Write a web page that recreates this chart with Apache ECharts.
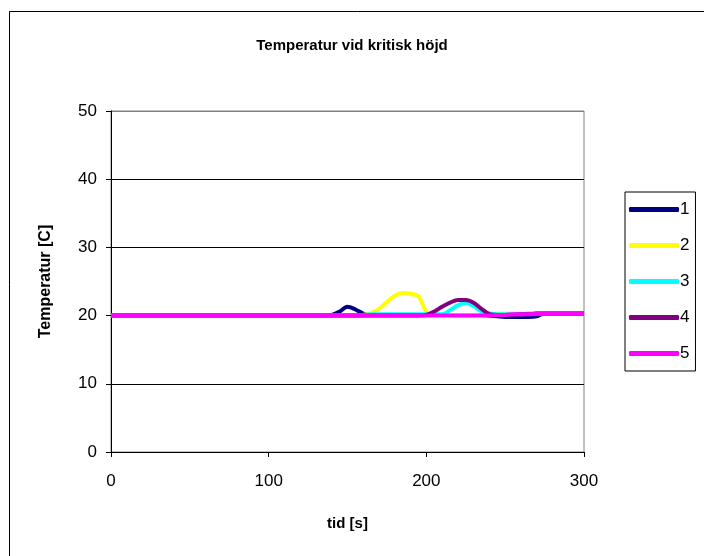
<!DOCTYPE html>
<html>
<head>
<meta charset="utf-8">
<script src="https://cdn.jsdelivr.net/npm/echarts@6/dist/echarts.min.js"></script>
<style>
  html, body { margin: 0; padding: 0; background: #fff; }
  #chart { width: 704px; height: 556px; }
</style>
</head>
<body>
<div id="chart"></div>
<script>
  // tid [s], every 5 s
  var tid = [];
  for (var t = 0; t <= 300; t += 5) tid.push(t);

  var s1 = [20,20,20,20,20,20,20,20,20,20,20,20,20,20,20,20,20,20,20,20,20,20,20,20,20,20,20,20,20.1,20.6,21.3,20.9,20.3,20.1,20.1,20.1,20.1,20.1,20.1,20.1,20.1,20.1,20.1,20.1,20.1,20.1,20.1,20.1,20.0,19.9,19.8,19.8,19.8,19.8,19.9,20.3,20.3,20.3,20.3,20.3,20.3];
  var s2 = [20,20,20,20,20,20,20,20,20,20,20,20,20,20,20,20,20,20,20,20,20,20,20,20,20,20,20,20,20,20,20,20,20.1,20.4,21.0,22.0,22.9,23.3,23.2,22.8,20.6,20.1,20.1,20.1,20.1,20.1,20.1,20.1,20.2,20.3,20.3,20.3,20.3,20.3,20.3,20.3,20.3,20.3,20.3,20.3,20.3];
  var s3 = [20,20,20,20,20,20,20,20,20,20,20,20,20,20,20,20,20,20,20,20,20,20,20,20,20,20,20,20,20,20,20,20,20.1,20.2,20.2,20.2,20.2,20.2,20.2,20.2,20.2,20.2,20.2,20.8,21.5,21.9,21.4,20.6,20.3,20.2,20.2,20.2,20.2,20.3,20.3,20.3,20.3,20.3,20.3,20.3,20.3];
  var s4 = [20,20,20,20,20,20,20,20,20,20,20,20,20,20,20,20,20,20,20,20,20,20,20,20,20,20,20,20,20,20,20,20,20,20,20,20,20,20,20,20,20.1,20.6,21.3,21.9,22.3,22.3,21.9,21.0,20.2,20.1,20.1,20.1,20.2,20.2,20.3,20.3,20.3,20.3,20.3,20.3,20.3];
  var s5 = [20,20,20,20,20,20,20,20,20,20,20,20,20,20,20,20,20,20,20,20,20,20,20,20,20,20,20,20,20,20,20,20,20,20,20,20,20,20,20,20,20,20,20,20,20,20,20,20,20,20.1,20.1,20.2,20.2,20.2,20.3,20.3,20.3,20.3,20.3,20.3,20.3];

  var names = ['1', '2', '3', '4', '5'];
  var colors = ['#000080', '#ffff00', '#00ffff', '#800080', '#ff00ff'];
  var values = [s1, s2, s3, s4, s5];

  function pairs(arr) {
    return arr.map(function (v, i) { return [tid[i], v]; });
  }

  var font = 'Liberation Sans, Arial, sans-serif';
  var chart = echarts.init(document.getElementById('chart'));

  var series = names.map(function (n, i) {
    return {
      name: n,
      type: 'line',
      data: pairs(values[i]),
      showSymbol: false,
      smooth: 0.3,
      lineStyle: { color: colors[i], width: 4 },
      itemStyle: { color: colors[i] },
      z: 2 + i
    };
  });

  var option = {
    animation: false,
    backgroundColor: '#fff',
    textStyle: { fontFamily: font },
    title: {
      text: 'Temperatur vid kritisk höjd',
      left: 'center',
      top: 33,
      textStyle: { fontFamily: font, fontSize: 15, fontWeight: 'bold', color: '#000' }
    },
    graphic: [{
      type: 'rect',
      shape: { x: 9.5, y: 11.5, width: 720, height: 580 },
      style: { fill: 'none', stroke: '#000', lineWidth: 1 },
      silent: true
    }],
    legend: {
      orient: 'vertical',
      left: 625,
      top: 192,
      width: 77,
      height: 180,
      padding: [9, 6, 9, 4],
      borderColor: '#000',
      borderWidth: 1,
      itemWidth: 50,
      itemHeight: 5,
      itemGap: 19,
      icon: 'roundRect',
      data: names,
      textStyle: { fontFamily: font, fontSize: 17, color: '#000', padding: [0, 0, 0, -4] }
    },
    grid: {
      left: 111, right: 120, top: 111, bottom: 104,
      show: true, borderColor: '#808080', borderWidth: 1
    },
    xAxis: {
      type: 'value',
      min: 0,
      max: 300,
      interval: 100,
      name: 'tid [s]',
      nameLocation: 'middle',
      nameGap: 64,
      nameTextStyle: { fontFamily: font, fontSize: 15, fontWeight: 'bold', color: '#000' },
      axisLine: { lineStyle: { color: '#000', width: 1 } },
      axisTick: { show: true, inside: false, length: 5, lineStyle: { color: '#000' } },
      axisLabel: { fontFamily: font, fontSize: 17, color: '#000', margin: 21 },
      splitLine: { show: false }
    },
    yAxis: {
      type: 'value',
      min: 0,
      max: 50,
      interval: 10,
      name: 'Temperatur [C]',
      nameLocation: 'middle',
      nameGap: 57,
      nameTextStyle: { fontFamily: font, fontSize: 16, fontWeight: 'bold', color: '#000' },
      axisLine: { show: true, lineStyle: { color: '#000', width: 1 } },
      axisTick: { show: true, length: 5, lineStyle: { color: '#000' } },
      axisLabel: { fontFamily: font, fontSize: 17, color: '#000', margin: 14 },
      splitLine: { show: true, lineStyle: { color: ['#000', '#000', '#000', '#000', '#000', '#808080'], width: 1 } }
    },
    series: series
  };

  option && chart.setOption(option);
</script>
</body>
</html>
